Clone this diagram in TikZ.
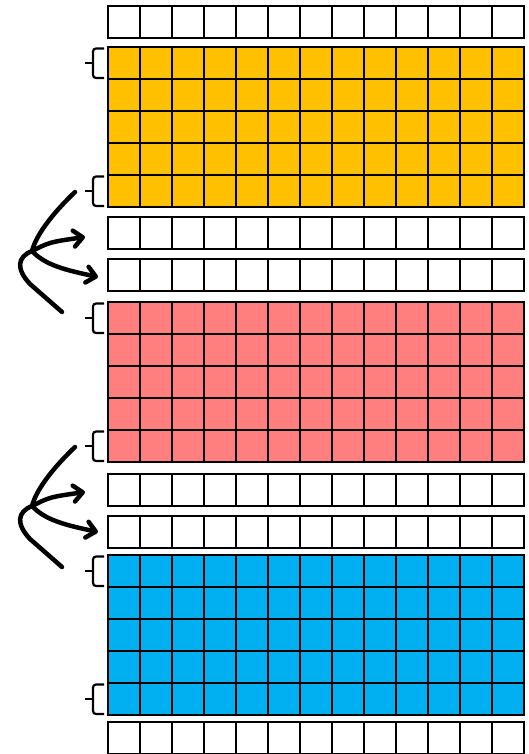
\documentclass[tikz,border=0pt]{standalone}
\usetikzlibrary{arrows.meta}
\definecolor{cOrange}{HTML}{FFC000}
\definecolor{cPink}{HTML}{FF7F7F}
\definecolor{cBlue}{HTML}{00B0F0}
\newcommand\mkblock[3]{%
  \fill[#3] (108,#1) rectangle (524,{#1+32*#2});
  \foreach \i in {0,...,13} \draw[gl] ({108+32*\i},#1) -- ({108+32*\i},{#1+32*#2});
  \foreach \j in {0,...,#2} \draw[gl] (108,{#1+32*\j}) -- (524,{#1+32*\j});
  \draw[gl, line width=2.8pt] (108,#1) rectangle (524,{#1+32*#2});
}
\newcommand\mkbrace[1]{%
  \draw[br] (104,{#1+1.5}) -| (93,{#1+16}) |- (104,{#1+31});
  \draw[br,rounded corners=0pt,line cap=butt] (85,{#1+16}) -- (94,{#1+16});
}
\begin{document}
\begin{tikzpicture}[x=1pt,y=-1pt,
  gl/.style={line width=2.6pt,black},
  br/.style={line width=2.2pt,rounded corners=3pt},
  curve/.style={line width=4.5pt,line cap=round},
  arr/.style={line width=4.5pt,line cap=round,-{Straight Barb[length=9pt,width=16pt,line cap=round,round]}}]
\useasboundingbox (0,0) rectangle (529,754);
\fill[white] (0,0) rectangle (529,754);
% white rows and coloured blocks
\mkblock{6}{1}{white}
\mkblock{47}{5}{cOrange}
\mkblock{217}{1}{white}
\mkblock{259}{1}{white}
\mkblock{302}{5}{cPink}
\mkblock{474}{1}{white}
\mkblock{516}{1}{white}
\mkblock{555}{5}{cBlue}
\mkblock{722}{1.1}{white}
% braces
\mkbrace{47}\mkbrace{175}
\mkbrace{302}\mkbrace{430}
\mkbrace{555}\mkbrace{683}
% first set of arrows
\coordinate (s1) at (75,192);
\coordinate (j1) at (32,251);
\coordinate (e1) at (62,312);
\coordinate (ta1) at (85,237);
\coordinate (tb1) at (98,277);
\draw[curve] (s1) .. controls (50,216) and (36,236) .. (j1)
  .. controls (17,257) and (16,269) .. (30,284) -- (e1);
\draw[arr] (j1) .. controls (50,242) .. (ta1);
\draw[arr] (j1) .. controls (45,265) and (65,270) .. (tb1);
% second set of arrows
\begin{scope}[yshift=-255pt]
\coordinate (s2) at (75,192);
\coordinate (j2) at (32,251);
\coordinate (e2) at (62,312);
\coordinate (ta2) at (85,237);
\coordinate (tb2) at (98,277);
\draw[curve] (s2) .. controls (50,216) and (36,236) .. (j2)
  .. controls (17,257) and (16,269) .. (30,284) -- (e2);
\draw[arr] (j2) .. controls (50,242) .. (ta2);
\draw[arr] (j2) .. controls (45,265) and (65,270) .. (tb2);
\end{scope}
\end{tikzpicture}
\end{document}
